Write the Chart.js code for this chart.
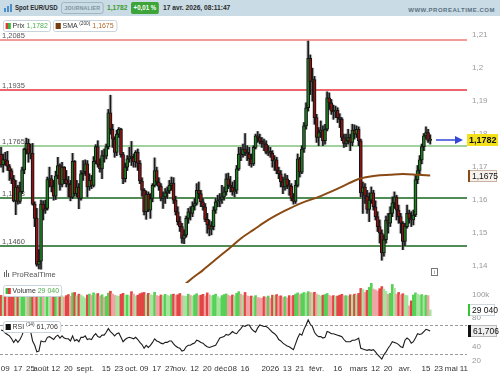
<!DOCTYPE html>
<html>
<head>
<meta charset="utf-8">
<title>Spot EUR/USD</title>
<script src="https://cdn.jsdelivr.net/npm/chart.js"></script>
<style>
  body { margin: 0; width: 500px; height: 375px; overflow: hidden; background: #fff; position: relative;
         font-family: "Liberation Sans", Arial, sans-serif; color: #2b2b2b; }
  #hdr { position: absolute; left: 0; top: 0; width: 500px; height: 16px; background: #c9dbe5; }
  #hdr span { position: absolute; top: 3px; font-size: 7px; font-weight: bold; line-height: 10px; white-space: nowrap;
              transform: scaleX(0.95); transform-origin: 0 50%; }
  #hdr .sym { transform: scaleX(0.87); }
  #hdr .badge { top: 2px; height: 10px; border: 1px solid #9fb4bf; border-radius: 3px; padding: 0 3px;
                font-size: 6px; color: #7d93a0; letter-spacing: 0.2px; line-height: 10px; transform: scaleX(0.87); }
  #hdr .chg { top: 2px; height: 12px; line-height: 12px; background: #3da43a; color: #fff; border-radius: 2px; padding: 0 3px;
              transform: scaleX(0.87); }
  #hdr .site { left: auto; right: 5px; top: 5px; font-size: 6px; color: #5a7282; letter-spacing: 0.5px; transform: none; }
  .ico i { position: absolute; bottom: 0; width: 2px; background: #4a8fc9; }
  canvas { position: absolute; left: 0; }
  .leg { position: absolute; left: 3px; height: 10px; border: 1px solid #c5d0d8; border-radius: 3px; background: #fff;
         font-size: 8px; line-height: 10px; padding: 0 3px 0 2px; white-space: nowrap; z-index: 5; color: #333;
         transform: scaleX(0.87); transform-origin: 0 50%; }
  .sq { display: inline-block; width: 6px; height: 6px; margin-right: 2px; vertical-align: -0.5px; }
  .leg sup { font-size: 5.5px; vertical-align: 3px; line-height: 0; }
  #prt { position: absolute; left: 4px; top: 270px; font-size: 7.5px; color: #555; z-index: 5; white-space: nowrap; }
  #prt b { display: inline-block; width: 1px; height: 5px; background: #666; margin-right: 1px; }
  #info { position: absolute; left: 431px; top: 268px; width: 5px; height: 6px; border: 1px solid #777; font-size: 5px;
          line-height: 6px; text-align: center; color: #555; z-index: 5; }
</style>
</head>
<body>
<div id="hdr">
  <div class="ico" style="position:absolute;left:4px;top:4px;width:9px;height:8px;">
    <i style="left:0;height:4px"></i><i style="left:3px;height:6px"></i><i style="left:6px;height:8px"></i>
  </div>
  <span class="sym" style="left:15px">Spot EUR/USD</span>
  <span class="badge" style="left:61px">JOURNALIER</span>
  <span id="hPrice" style="left:107px;color:#3d9a2c"></span>
  <span class="chg" style="left:131px">+0,01 %</span>
  <span style="left:163px">17 avr. 2026, 08:11:47</span>
  <span class="site">WWW.PROREALTIME.COM</span>
</div>

<canvas id="priceChart" width="500" height="266" style="top:17px"></canvas>
<canvas id="volChart" width="500" height="33" style="top:283px"></canvas>
<canvas id="rsiChart" width="500" height="59" style="top:316px"></canvas>

<div class="leg" style="top:20px"><span class="sq" style="background:linear-gradient(90deg,#e03a3a 50%,#3db83d 50%)"></span>Prix <span id="lPrice" style="color:#4cae4c"></span></div>
<div class="leg" style="top:20px;left:53px"><span class="sq" style="background:#7a3d10"></span>SMA <sup>(200)</sup> <span id="lSma" style="color:#b0672a"></span></div>
<div class="leg" style="top:285px"><span class="sq" style="background:linear-gradient(90deg,#3db83d 50%,#e03a3a 50%)"></span>Volume <span id="lVol" style="color:#4cae4c"></span></div>
<div class="leg" style="top:321px"><span class="sq" style="background:#111"></span>RSI <sup>(14)</sup> <span id="lRsi"></span></div>
<div id="prt"><b></b><b style="height:7px"></b><b style="height:4px"></b> ProRealTime</div>
<div id="info">i</div>

<script>
  // trading days on the x axis (weekdays), data runs from the first day to 17 avr.
  var startDay = '2025-07-07';
  var endDay = '2026-05-12';
  var firstOpen = 1.1740;

  var closes = [1.1707,1.1723,1.1720,1.1702,1.1689,1.1664,1.1598,1.1640,1.1596,1.1626,
    1.1692,1.1754,1.1772,1.1740,1.1742,1.1588,1.1545,1.1405,1.1415,1.1588,
    1.1570,1.1575,1.1662,1.1665,1.1642,1.1612,1.1674,1.1705,1.1648,1.1700,
    1.1662,1.1650,1.1648,1.1608,1.1718,1.1620,1.1640,1.1605,1.1680,1.1686,
    1.1710,1.1640,1.1660,1.1645,1.1718,1.1762,1.1708,1.1695,1.1735,1.1733,
    1.1762,1.1865,1.1815,1.1785,1.1745,1.1800,1.1815,1.1738,1.1665,1.1700,
    1.1725,1.1732,1.1730,1.1716,1.1745,1.1712,1.1658,1.1630,1.1565,1.1618,
    1.1570,1.1605,1.1645,1.1690,1.1655,1.1642,1.1605,1.1610,1.1622,1.1628,
    1.1645,1.1652,1.1600,1.1565,1.1535,1.1520,1.1484,1.1494,1.1545,1.1565,
    1.1560,1.1582,1.1590,1.1630,1.1620,1.1595,1.1580,1.1542,1.1525,1.1512,
    1.1520,1.1570,1.1595,1.1598,1.1602,1.1610,1.1625,1.1665,1.1645,1.1640,
    1.1625,1.1630,1.1695,1.1740,1.1738,1.1755,1.1745,1.1740,1.1725,1.1710,
    1.1760,1.1795,1.1790,1.1778,1.1772,1.1770,1.1745,1.1748,1.1742,1.1720,
    1.1722,1.1690,1.1680,1.1655,1.1640,1.1665,1.1645,1.1642,1.1605,1.1596,
    1.1645,1.1725,1.1685,1.1755,1.1825,1.1880,1.2030,1.1960,1.1965,1.1850,
    1.1790,1.1805,1.1812,1.1780,1.1815,1.1910,1.1895,1.1870,1.1868,1.1872,
    1.1850,1.1845,1.1790,1.1772,1.1780,1.1790,1.1775,1.1812,1.1800,1.1815,
    1.1780,1.1622,1.1640,1.1612,1.1572,1.1600,1.1622,1.1580,1.1550,1.1520,
    1.1500,1.1440,1.1480,1.1540,1.1530,1.1560,1.1592,1.1610,1.1570,1.1550,
    1.1530,1.1475,1.1520,1.1560,1.1545,1.1540,1.1555,1.1662,1.1690,1.1722,
    1.1762,1.1795,1.1805,1.1781,1.1782];

  var highs = [1.1760,1.1740,1.1745,1.1748,1.1708,1.1695,1.1675,1.1660,1.1645,1.1655,
    1.1700,1.1758,1.1788,1.1785,1.1770,1.1772,1.1595,1.1575,1.1450,1.1600,
    1.1598,1.1600,1.1670,1.1700,1.1675,1.1660,1.1688,1.1730,1.1710,1.1715,
    1.1702,1.1690,1.1672,1.1660,1.1742,1.1720,1.1660,1.1650,1.1690,1.1720,
    1.1722,1.1720,1.1680,1.1675,1.1732,1.1768,1.1780,1.1725,1.1750,1.1755,
    1.1770,1.1875,1.1918,1.1830,1.1792,1.1812,1.1820,1.1818,1.1745,1.1712,
    1.1735,1.1760,1.1778,1.1740,1.1750,1.1755,1.1720,1.1668,1.1635,1.1628,
    1.1625,1.1620,1.1650,1.1728,1.1700,1.1668,1.1650,1.1625,1.1635,1.1640,
    1.1660,1.1670,1.1668,1.1612,1.1580,1.1550,1.1530,1.1510,1.1552,1.1575,
    1.1580,1.1595,1.1605,1.1650,1.1655,1.1630,1.1605,1.1590,1.1560,1.1540,
    1.1535,1.1580,1.1605,1.1615,1.1620,1.1645,1.1640,1.1680,1.1682,1.1672,
    1.1655,1.1660,1.1705,1.1760,1.1760,1.1770,1.1802,1.1765,1.1760,1.1740,
    1.1765,1.1800,1.1808,1.1800,1.1790,1.1785,1.1780,1.1765,1.1760,1.1750,
    1.1735,1.1730,1.1700,1.1690,1.1670,1.1680,1.1675,1.1660,1.1650,1.1620,
    1.1660,1.1740,1.1730,1.1765,1.1835,1.1895,1.2082,1.2040,1.2000,1.1975,
    1.1860,1.1820,1.1840,1.1825,1.1830,1.1928,1.1925,1.1905,1.1888,1.1885,
    1.1880,1.1862,1.1850,1.1800,1.1800,1.1815,1.1800,1.1830,1.1828,1.1825,
    1.1822,1.1785,1.1655,1.1650,1.1630,1.1622,1.1640,1.1630,1.1598,1.1565,
    1.1540,1.1510,1.1495,1.1552,1.1560,1.1580,1.1610,1.1625,1.1615,1.1585,
    1.1560,1.1535,1.1530,1.1585,1.1570,1.1565,1.1570,1.1675,1.1705,1.1735,
    1.1770,1.1802,1.1822,1.1815,1.1798];

  var lows = [1.1700,1.1685,1.1705,1.1690,1.1660,1.1650,1.1595,1.1556,1.1588,1.1590,
    1.1620,1.1680,1.1740,1.1715,1.1725,1.1585,1.1520,1.1400,1.1392,1.1391,
    1.1540,1.1560,1.1570,1.1640,1.1625,1.1600,1.1602,1.1665,1.1630,1.1640,
    1.1650,1.1640,1.1610,1.1598,1.1605,1.1612,1.1610,1.1574,1.1600,1.1660,
    1.1675,1.1610,1.1630,1.1635,1.1640,1.1710,1.1700,1.1685,1.1665,1.1715,
    1.1725,1.1755,1.1800,1.1760,1.1730,1.1735,1.1790,1.1730,1.1650,1.1655,
    1.1690,1.1715,1.1705,1.1700,1.1700,1.1690,1.1650,1.1612,1.1555,1.1542,
    1.1565,1.1545,1.1595,1.1640,1.1645,1.1630,1.1598,1.1575,1.1590,1.1605,
    1.1620,1.1630,1.1590,1.1555,1.1525,1.1505,1.1470,1.1468,1.1488,1.1530,
    1.1540,1.1550,1.1570,1.1585,1.1605,1.1580,1.1570,1.1535,1.1500,1.1492,
    1.1495,1.1510,1.1560,1.1580,1.1580,1.1590,1.1600,1.1615,1.1635,1.1625,
    1.1615,1.1610,1.1620,1.1690,1.1720,1.1730,1.1735,1.1720,1.1705,1.1700,
    1.1705,1.1755,1.1775,1.1770,1.1760,1.1750,1.1740,1.1735,1.1730,1.1700,
    1.1690,1.1680,1.1665,1.1640,1.1620,1.1630,1.1635,1.1615,1.1598,1.1588,
    1.1590,1.1640,1.1670,1.1680,1.1745,1.1815,1.1870,1.1920,1.1900,1.1830,
    1.1775,1.1765,1.1790,1.1765,1.1770,1.1810,1.1875,1.1860,1.1845,1.1850,
    1.1835,1.1820,1.1780,1.1760,1.1762,1.1770,1.1750,1.1765,1.1785,1.1790,
    1.1765,1.1610,1.1560,1.1590,1.1560,1.1535,1.1590,1.1570,1.1540,1.1505,
    1.1470,1.1418,1.1430,1.1470,1.1500,1.1520,1.1550,1.1575,1.1540,1.1530,
    1.1500,1.1450,1.1462,1.1515,1.1530,1.1520,1.1525,1.1550,1.1650,1.1680,
    1.1710,1.1750,1.1785,1.1775,1.1770];

  // volume in thousands
  var volumes = [98,92,104,88,95,101,108,96,103,90,
    92,105,99,91,94,112,108,118,104,115,
    97,88,101,95,90,99,106,93,104,96,
    90,97,102,94,110,112,96,104,99,92,
    85,100,104,98,110,103,107,95,101,89,
    93,109,118,105,98,96,94,103,108,99,
    100,97,116,104,95,99,106,110,112,101,
    108,102,98,113,97,94,100,96,103,99,
    95,102,104,98,101,107,96,95,93,104,
    98,94,100,106,97,99,103,95,110,101,
    96,99,104,92,85,97,102,105,99,94,
    100,96,108,116,104,98,112,96,93,95,
    90,97,88,86,84,92,89,95,84,99,
    97,102,94,96,88,92,86,97,93,98,
    104,110,102,106,112,108,116,112,109,113,
    104,100,95,99,102,107,98,94,97,92,
    95,99,103,96,97,94,101,98,104,100,
    108,131,126,112,122,136,157,128,124,118,
    130,140,128,117,103,108,150,132,104,112,
    101,106,99,97,48,72,100,110,103,98,
    102,95,99,97,29.04];

  var rsi = [63,62,59,57,55,51,46,50,46,50,
    56,64,68,63,62,48,42,33,34,48,
    47,47,53,54,52,50,54,56,52,55,
    52,51,51,48,55,48,50,47,53,53,
    55,50,51,50,55,58,54,53,56,56,
    60,65,61,58,55,58,59,53,47,50,
    52,53,52,51,53,50,46,43,38,42,
    39,42,46,51,48,47,45,44,46,46,
    48,48,44,41,39,38,34,35,40,42,
    42,44,45,49,48,46,45,42,40,39,
    40,41,42,47,52,53,54,57,56,58,
    61,59,58,62,65,69,68,70,70,65,
    62,60,66,70,69,68,68,66,63,60,
    58,55,50,48,45,43,41,40,38,36,
    44,52,58,56,64,70,77,71,68,60,
    56,54,54,52,53,61,60,58,58,57,
    56,55,54,50,47,47,47,49,49,50,
    52,38,37,36,35,36,35,36,33,29,
    26,23,29,33,38,42,47,46,45,43,
    40,39,49,52,50,45,47,52,58,57,
    58,61,64,63,61.706];

  // SMA 200 read at [day index, value]
  var smaPoints = [[80,1.1305],[91,1.1364],[96,1.1388],[102,1.1420],[110,1.1462],[114,1.1484],
    [120,1.1510],[127,1.1540],[135,1.1568],[143,1.1592],[151,1.1610],[159,1.1632],[165,1.1650],
    [170,1.1664],[178,1.1674],[185,1.1677],[191,1.1679],[198,1.1677],[204,1.1675]];

  var levels = [1.2085, 1.1935, 1.1765, 1.1608, 1.1460];
  var levelColors = ['#f29a9a', '#e8333b', '#9fd29f', '#17661c', '#17661c'];
  var levelWidths = [2, 1.5, 2, 1.5, 1.5];

  var priceTicks = [1.14, 1.15, 1.16, 1.17, 1.18, 1.19, 1.2, 1.21];
  var volumeTicks = [100];
  var rsiTicks = [20, 40, 60, 80];
  var rsiBands = [70, 30];

  var tickLabels = [['2025-07-09','09'],['2025-07-17','17'],['2025-07-25','25'],['2025-08-01','août'],
    ['2025-08-12','12'],['2025-08-20','20'],['2025-09-01','sept.'],['2025-09-15','15'],['2025-09-23','23'],
    ['2025-10-01','oct.'],['2025-10-09','09'],['2025-10-17','17'],['2025-10-27','27'],['2025-11-03','nov.'],
    ['2025-11-12','12'],['2025-11-20','20'],['2025-12-01','déc.'],['2025-12-08','08'],['2025-12-16','16'],
    ['2026-01-01','2026'],['2026-01-13','13'],['2026-01-21','21'],['2026-02-02','févr.'],['2026-02-16','16'],
    ['2026-03-02','mars'],['2026-03-12','12'],['2026-03-20','20'],['2026-04-01','avr.'],['2026-04-15','15'],
    ['2026-04-23','23'],['2026-05-01','mai'],['2026-05-11','11']];

  // ---- build things from the data ----
  var days = [];
  for (var d = new Date(startDay + 'T12:00:00Z'); d <= new Date(endDay + 'T12:00:00Z'); d.setUTCDate(d.getUTCDate() + 1)) {
    var wd = d.getUTCDay();
    if (wd !== 0 && wd !== 6) days.push(d.toISOString().slice(0, 10));
  }
  var opens = closes.map(function(c, i) { return i === 0 ? firstOpen : closes[i - 1]; });
  var smaLine = closes.map(function() { return null; });
  smaPoints.forEach(function(p) { smaLine[p[0]] = p[1]; });
  var tickMap = {};
  tickLabels.forEach(function(t) { tickMap[t[0]] = t[1]; });

  function fmt(v, dec) { return v.toFixed(dec).replace('.', ','); }
  var last = closes.length - 1;
  var lastSma = smaPoints[smaPoints.length - 1][1];
  var volText = String(Math.round(volumes[last] * 1000)).replace(/\B(?=(\d{3})+$)/g, ' ');
  document.getElementById('hPrice').textContent = fmt(closes[last], 4);
  document.getElementById('lPrice').textContent = fmt(closes[last], 4);
  document.getElementById('lSma').textContent = fmt(lastSma, 4);
  document.getElementById('lVol').textContent = volText;
  document.getElementById('lRsi').textContent = fmt(rsi[last], 3);

  Chart.defaults.font.family = '"Liberation Sans", Arial, sans-serif';
  Chart.defaults.font.size = 8;
  Chart.defaults.animation = false;

  function xAxis(show) {
    return {
      type: 'category', labels: days, offset: true, display: show,
      grid: { display: false, drawTicks: false }, border: { display: false },
      ticks: {
        autoSkip: false, maxRotation: 0, minRotation: 0, padding: 2, color: '#333', font: { size: 8 },
        callback: function(v) { return tickMap[days[v]]; }
      },
      afterBuildTicks: function(s) {
        s.ticks = tickLabels.map(function(t) { return { value: days.indexOf(t[0]) }; })
          .filter(function(t) { return t.value >= 0; });
      },
      afterFit: function(s) {
        s.height = show ? 13 : 0;
        s.paddingLeft = 0; s.paddingRight = 0;
      }
    };
  }
  function yAxis(min, max, ticks, cb) {
    return {
      position: 'right', min: min, max: max,
      grid: { display: false, drawTicks: false }, border: { display: false },
      ticks: { padding: 5, color: '#9a9a9a', font: { size: 8 }, callback: cb },
      afterBuildTicks: function(s) { s.ticks = ticks.map(function(v) { return { value: v }; }); },
      afterFit: function(s) { s.width = 33; s.paddingTop = 0; s.paddingBottom = 0; }
    };
  }
  var baseOpts = {
    responsive: false, animation: false, events: [],
    layout: { padding: 0 },
    plugins: { legend: { display: false }, tooltip: { enabled: false } }
  };
  function opts(scales) { return Object.assign({}, baseOpts, { scales: scales }); }

  function label(ctx, x, y, w, text, fill, stroke, bar, barW, bold) {
    ctx.fillStyle = fill;
    ctx.fillRect(x, y - 6, w, 12);
    if (stroke) { ctx.strokeStyle = stroke; ctx.lineWidth = 1; ctx.strokeRect(x + 0.5, y - 5.5, w - 1, 11); }
    if (bar) { ctx.fillStyle = bar; ctx.fillRect(x, y - 6, barW, 12); }
    ctx.fillStyle = '#111';
    ctx.font = (bold ? 'bold 9px' : '8.5px') + ' "Liberation Sans", Arial, sans-serif';
    ctx.textBaseline = 'middle';
    ctx.textAlign = 'left';
    ctx.fillText(text, x + barW + 2, y + 0.5);
  }

  // ---- price panel ----
  var levelPlugin = {
    id: 'levels',
    beforeDatasetsDraw: function(chart) {
      var ctx = chart.ctx, a = chart.chartArea, y = chart.scales.y;
      ctx.save();
      levels.forEach(function(v, k) {
        var py = Math.round(y.getPixelForValue(v));
        ctx.strokeStyle = levelColors[k];
        ctx.lineWidth = levelWidths[k];
        ctx.beginPath(); ctx.moveTo(a.left, py); ctx.lineTo(a.right, py); ctx.stroke();
        ctx.fillStyle = '#555';
        ctx.font = '7.5px "Liberation Sans", Arial, sans-serif';
        ctx.textBaseline = 'alphabetic';
        ctx.fillText(fmt(v, 4), 2, py - 2.5);
      });
      ctx.restore();
    },
    afterDraw: function(chart) {
      var ctx = chart.ctx, a = chart.chartArea, y = chart.scales.y;
      ctx.save();
      var py = Math.round(y.getPixelForValue(closes[last]));
      ctx.strokeStyle = '#3148d6'; ctx.fillStyle = '#3148d6'; ctx.lineWidth = 1.5;
      ctx.beginPath(); ctx.moveTo(a.right - 31, py); ctx.lineTo(a.right - 10, py); ctx.stroke();
      ctx.beginPath(); ctx.moveTo(a.right - 4, py); ctx.lineTo(a.right - 12, py - 4); ctx.lineTo(a.right - 12, py + 4); ctx.closePath(); ctx.fill();
      label(ctx, a.right, py, 31, fmt(closes[last], 4), '#f3e21b', null, null, 0, true);
      var ps = Math.round(y.getPixelForValue(lastSma)) + 1;
      label(ctx, a.right + 1, ps, 29, fmt(lastSma, 4), '#f7f1ee', '#cdb2a4', '#8a4a14', 2, false);
      ctx.restore();
    }
  };

  new Chart(document.getElementById('priceChart'), {
    type: 'bar',
    data: {
      labels: days,
      datasets: [
        { type: 'line', data: smaLine, spanGaps: true, borderColor: '#8a4a14', borderWidth: 2, pointRadius: 0,
          cubicInterpolationMode: 'monotone', order: 0 },
        { data: closes.map(function(c, i) { return [opens[i], c]; }), grouped: false, order: 1,
          barThickness: 3, minBarLength: 1, borderWidth: 1, borderSkipped: false, borderColor: '#141414',
          backgroundColor: function(c) { var i = c.dataIndex; return closes[i] >= opens[i] ? '#1f7d22' : '#8e1414'; } },
        { data: highs.map(function(h, i) { return [lows[i], h]; }), grouped: false, order: 2,
          barThickness: 1, backgroundColor: '#1a1a1a' },
        { data: highs.map(function(h, i) { return [lows[i], h]; }), grouped: false, order: 3,
          barThickness: 3, backgroundColor: 'rgba(140,140,140,0.55)' }
      ]
    },
    options: opts({
      x: xAxis(false),
      y: yAxis(1.1349, 1.2155, priceTicks, function(v) { return String(+v.toFixed(2)).replace('.', ','); })
    }),
    plugins: [levelPlugin]
  });

  // ---- volume panel ----
  new Chart(document.getElementById('volChart'), {
    type: 'bar',
    data: {
      labels: days,
      datasets: [{
        data: volumes, barThickness: 2,
        backgroundColor: function(c) {
          var i = c.dataIndex, up = closes[i] >= opens[i], lower = i > 0 && volumes[i] < volumes[i - 1];
          if (up) return lower ? '#a6e49e' : '#55d155';
          return lower ? '#f0a3a3' : '#e34444';
        }
      }]
    },
    options: opts({
      x: xAxis(false),
      y: yAxis(0, 157, volumeTicks, function(v) { return v + 'k'; })
    }),
    plugins: [{
      id: 'volLabel',
      afterDraw: function(chart) {
        var ctx = chart.ctx, a = chart.chartArea;
        var py = Math.round(chart.scales.y.getPixelForValue(volumes[last]));
        ctx.save();
        label(ctx, a.right + 1, Math.min(py, a.bottom - 6), 27, volText, '#fff', '#cfd6da', '#35c435', 2, false);
        ctx.restore();
      }
    }]
  });

  // ---- RSI panel ----
  new Chart(document.getElementById('rsiChart'), {
    type: 'line',
    data: {
      labels: days,
      datasets: [{ data: rsi, borderColor: '#1c1c1c', borderWidth: 1.1, pointRadius: 0, tension: 0 }]
    },
    options: opts({
      x: xAxis(true),
      y: yAxis(19, 82.4, rsiTicks, function(v) { return v; })
    }),
    plugins: [{
      id: 'rsiBands',
      beforeDatasetsDraw: function(chart) {
        var ctx = chart.ctx, a = chart.chartArea, y = chart.scales.y;
        ctx.save();
        ctx.strokeStyle = '#9a9a9a'; ctx.lineWidth = 1; ctx.setLineDash([3, 2]);
        rsiBands.forEach(function(v) {
          var py = Math.round(y.getPixelForValue(v)) + 0.5;
          ctx.beginPath(); ctx.moveTo(a.left, py); ctx.lineTo(a.right, py); ctx.stroke();
        });
        ctx.restore();
      },
      afterDraw: function(chart) {
        var ctx = chart.ctx, a = chart.chartArea;
        var py = Math.round(chart.scales.y.getPixelForValue(rsi[last]));
        ctx.save();
        label(ctx, a.right + 1, py, 29, fmt(rsi[last], 3), '#efefef', '#b9b9b9', '#111', 3, false);
        ctx.restore();
      }
    }]
  });
</script>
</body>
</html>
